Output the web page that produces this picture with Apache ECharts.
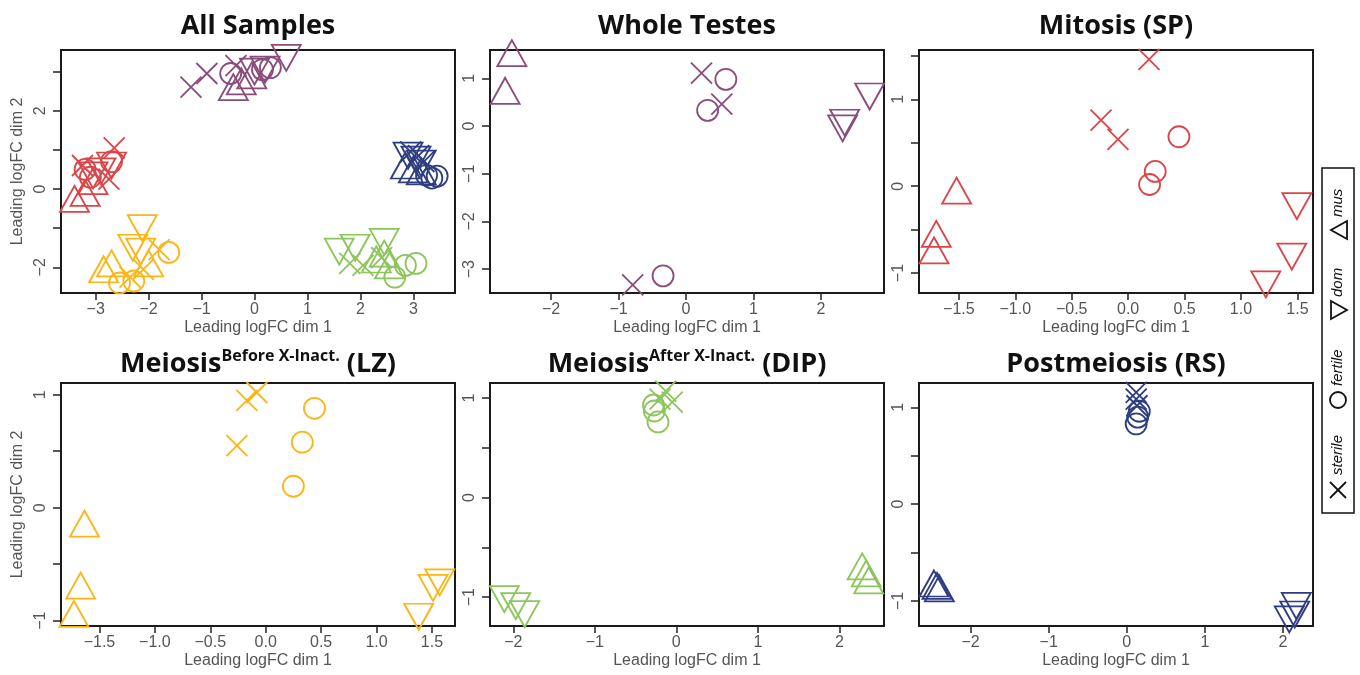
<!DOCTYPE html>
<html><head><meta charset="utf-8">
<script src="https://cdn.jsdelivr.net/npm/echarts@6/dist/echarts.min.js"></script>
<style>html,body{margin:0;padding:0;background:#fff}#c{width:1360px;height:675px}</style>
</head><body><div id="c"></div>
<script>
// ---------------- DATA ----------------
// All Samples (by cell type)
const allWtSterile = [[-1.2,2.6],[-0.9,2.95],[-0.35,3.15]];
const allWtFertile = [[-0.45,2.95],[0.15,3.05],[0.3,3.1]];
const allWtDom     = [[0.6,3.35],[0.0,3.0],[0.2,3.05]];
const allWtMus     = [[-0.4,2.6],[-0.25,2.75],[-0.05,2.9]];

const allSpSterile = [[-2.65,1.05],[-2.75,0.25],[-3.25,0.6]];
const allSpFertile = [[-2.7,0.7],[-3.2,0.5],[-3.1,0.3]];
const allSpDom     = [[-2.7,0.6],[-2.9,0.45],[-3.05,0.35]];
const allSpMus     = [[-3.4,-0.25],[-3.2,-0.1],[-3.05,0.2]];

const allLzSterile = [[-1.8,-1.55],[-2.1,-2.05],[-2.35,-2.25]];
const allLzFertile = [[-1.62,-1.62],[-2.28,-2.35],[-2.55,-2.4]];
const allLzDom     = [[-2.12,-1.0],[-2.3,-1.5],[-2.15,-1.6]];
const allLzMus     = [[-2.85,-2.05],[-2.7,-1.9],[-2.0,-1.9]];

const allDipSterile = [[1.8,-1.9],[2.05,-1.95],[2.4,-1.75]];
const allDipFertile = [[3.05,-1.9],[2.85,-1.95],[2.65,-2.25]];
const allDipDom     = [[1.6,-1.6],[1.9,-1.5],[2.45,-1.35]];
const allDipMus     = [[2.3,-1.8],[2.45,-1.65],[2.55,-1.95]];

const allRsSterile = [[2.95,0.95],[3.1,0.85],[3.2,0.7]];
const allRsFertile = [[3.45,0.33],[3.35,0.28],[3.25,0.35]];
const allRsDom     = [[2.9,0.85],[3.05,0.75],[3.15,0.65]];
const allRsMus     = [[2.85,0.6],[3.0,0.5],[3.15,0.45]];

// Whole Testes
const wtSterile = [[0.23,1.11],[0.53,0.46],[-0.79,-3.33]];
const wtFertile = [[0.59,0.98],[0.32,0.33],[-0.34,-3.14]];
const wtDom     = [[2.72,0.62],[2.35,0.07],[2.32,-0.05]];
const wtMus     = [[-2.58,1.53],[-2.68,0.74]];

// Mitosis (SP)
const spSterile = [[0.185,1.46],[-0.24,0.76],[-0.09,0.54]];
const spFertile = [[0.45,0.57],[0.24,0.17],[0.19,0.02]];
const spDom     = [[1.495,-0.23],[1.45,-0.81],[1.22,-1.13]];
const spMus     = [[-1.52,-0.05],[-1.70,-0.55],[-1.72,-0.74]];

// Meiosis before X-inactivation (LZ)
const lzSterile = [[-0.08,1.02],[-0.17,0.95],[-0.26,0.55]];
const lzFertile = [[0.44,0.88],[0.33,0.58],[0.25,0.19]];
const lzDom     = [[1.57,-0.66],[1.51,-0.71],[1.38,-0.965]];
const lzMus     = [[-1.635,-0.14],[-1.67,-0.69],[-1.73,-0.94]];

// Meiosis after X-inactivation (DIP)
const dipSterile = [[-0.05,0.96],[-0.13,1.07],[-0.2,0.99]];
const dipFertile = [[-0.28,0.93],[-0.27,0.87],[-0.225,0.76]];
const dipDom     = [[-2.11,-1.02],[-1.97,-1.09],[-1.86,-1.17]];
const dipMus     = [[2.28,-0.69],[2.33,-0.76],[2.36,-0.83]];

// Postmeiosis (RS)
const rsSterile = [[0.12,1.155],[0.12,1.085],[0.13,1.017]];
const rsFertile = [[0.16,0.96],[0.14,0.90],[0.12,0.83]];
const rsDom     = [[2.17,-1.05],[2.08,-1.19],[2.15,-1.14]];
const rsMus     = [[-2.47,-0.82],[-2.43,-0.845],[-2.40,-0.87]];

// Axis ranges and ticks
const p1XRange = [-3.655, 3.787], p1XTicks = [-3,-2,-1,0,1,2,3], p1XLabels = [-3,-2,-1,0,1,2,3];
const p1YRange = [-2.656, 3.55],  p1YTicks = [-2,-1,0,1,2,3],   p1YLabels = [-2,0,2];
const p2XRange = [-2.904, 2.933], p2XTicks = [-2,-1,0,1,2],     p2XLabels = [-2,-1,0,1,2];
const p2YRange = [-3.5, 1.595],   p2YTicks = [-3,-2,-1,0,1],    p2YLabels = [-3,-2,-1,0,1];
const p3XRange = [-1.853, 1.638], p3XTicks = [-1.5,-1,-0.5,0,0.5,1,1.5], p3XLabels = [-1.5,-1,-0.5,0,0.5,1,1.5];
const p3YRange = [-1.23, 1.569],  p3YTicks = [-1,-0.5,0,0.5,1,1.5], p3YLabels = [-1,0,1];
const p4XRange = [-1.847, 1.708], p4XTicks = [-1.5,-1,-0.5,0,0.5,1,1.5], p4XLabels = [-1.5,-1,-0.5,0,0.5,1,1.5];
const p4YRange = [-1.047, 1.104], p4YTicks = [-1,-0.5,0,0.5,1], p4YLabels = [-1,0,1];
const p5XRange = [-2.286, 2.548], p5XTicks = [-2,-1,0,1,2],     p5XLabels = [-2,-1,0,1,2];
const p5YRange = [-1.289, 1.151], p5YTicks = [-1,-0.5,0,0.5,1], p5YLabels = [-1,0,1];
const p6XRange = [-2.661, 2.384], p6XTicks = [-2,-1,0,1,2],     p6XLabels = [-2,-1,0,1,2];
const p6YRange = [-1.259, 1.252], p6YTicks = [-1,-0.5,0,0.5,1], p6YLabels = [-1,0,1];

const titles = ['All Samples','Whole Testes','Mitosis (SP)','Meiosis','Meiosis','Postmeiosis (RS)'];
const legendLabels = ['sterile','fertile','dom','mus'];
const xName = 'Leading logFC dim 1', yName = 'Leading logFC dim 2';

// ---------------- STYLE ----------------
const C = { WT:'#8a4c7b', SP:'#dc4448', LZ:'#fbb515', DIP:'#8cc55a', RS:'#2f3d80' };
const LABEL_FONT = 'Liberation Sans';
const TITLE_FONT = 'Open Sans';
const gridPos = [
  {left:61, top:50, width:394, height:243},
  {left:490, top:50, width:394, height:243},
  {left:919, top:50, width:394, height:243},
  {left:61, top:383, width:394, height:243},
  {left:490, top:383, width:394, height:243},
  {left:919, top:383, width:394, height:243}
];
const titleY = [26, 26, 26, 364, 364, 364];

const SYM = {
  sterile: {symbol:'path://M0,0L20,20M20,0L0,20', size:21, rot:0},
  fertile: {symbol:'circle', size:21, rot:0},
  dom:     {symbol:'triangle', size:[29,26], rot:180},
  mus:     {symbol:'triangle', size:[29,26], rot:0}
};

function fmt(dec){
  return function(v){
    let s = dec ? v.toFixed(dec) : String(Math.round(v));
    if (Math.abs(v) < 1e-9) s = dec ? (0).toFixed(dec) : '0';
    return s.replace('-', '\u2212');
  };
}

function xAxis(i, range, ticks, labels, dec){
  return {
    type:'value', gridIndex:i, min:range[0], max:range[1], position:'bottom',
    name:xName, nameLocation:'middle', nameGap:27,
    nameTextStyle:{fontFamily:LABEL_FONT, fontSize:16, color:'#555'},
    axisLine:{show:false, onZero:false}, splitLine:{show:false},
    axisTick:{show:true, inside:false, length:7, customValues:ticks, lineStyle:{color:'#222', width:1.5}},
    axisLabel:{show:true, customValues:labels, margin:9, formatter:fmt(dec), fontFamily:LABEL_FONT, fontSize:16, color:'#555'}
  };
}
function yAxis(i, range, ticks, labels, dec, named){
  return {
    type:'value', gridIndex:i, min:range[0], max:range[1], position:'left',
    name: named ? yName : '', nameLocation:'middle', nameGap:35,
    nameTextStyle:{fontFamily:LABEL_FONT, fontSize:16, color:'#555'},
    axisLine:{show:false, onZero:false}, splitLine:{show:false},
    axisTick:{show:true, inside:false, length:8, customValues:ticks, lineStyle:{color:'#222', width:1.5}},
    axisLabel:{show:true, customValues:labels, margin:12, rotate:90, formatter:fmt(dec), fontFamily:LABEL_FONT, fontSize:16, color:'#555'}
  };
}

const series = [];
function add(i, color, kind, data){
  const s = SYM[kind];
  series.push({
    type:'scatter', xAxisIndex:i, yAxisIndex:i, data:data,
    symbol:s.symbol, symbolSize:s.size, symbolRotate:s.rot,
    itemStyle:{color:'rgba(0,0,0,0)', borderColor:color, borderWidth:1.8, opacity:1},
    emphasis:{disabled:true}, clip:true, silent:true
  });
}
// panel 1
[['WT',allWtSterile,allWtFertile,allWtDom,allWtMus],
 ['SP',allSpSterile,allSpFertile,allSpDom,allSpMus],
 ['LZ',allLzSterile,allLzFertile,allLzDom,allLzMus],
 ['DIP',allDipSterile,allDipFertile,allDipDom,allDipMus],
 ['RS',allRsSterile,allRsFertile,allRsDom,allRsMus]].forEach(function(g){
  add(0, C[g[0]], 'mus', g[4]); add(0, C[g[0]], 'dom', g[3]);
  add(0, C[g[0]], 'fertile', g[2]); add(0, C[g[0]], 'sterile', g[1]);
});
[[1,'WT',wtSterile,wtFertile,wtDom,wtMus],
 [2,'SP',spSterile,spFertile,spDom,spMus],
 [3,'LZ',lzSterile,lzFertile,lzDom,lzMus],
 [4,'DIP',dipSterile,dipFertile,dipDom,dipMus],
 [5,'RS',rsSterile,rsFertile,rsDom,rsMus]].forEach(function(g){
  const c = C[g[1]];
  add(g[0], c, 'sterile', g[2]); add(g[0], c, 'fertile', g[3]);
  add(g[0], c, 'dom', g[4]); add(g[0], c, 'mus', g[5]);
});

const grids = gridPos.map(function(p){
  return Object.assign({show:true, borderColor:'#1a1a1a', borderWidth:2, backgroundColor:'transparent',
    containLabel:false, outerBoundsMode:'none'}, p);
});

const xAxes = [
  xAxis(0,p1XRange,p1XTicks,p1XLabels,0), xAxis(1,p2XRange,p2XTicks,p2XLabels,0),
  xAxis(2,p3XRange,p3XTicks,p3XLabels,1), xAxis(3,p4XRange,p4XTicks,p4XLabels,1),
  xAxis(4,p5XRange,p5XTicks,p5XLabels,0), xAxis(5,p6XRange,p6XTicks,p6XLabels,0)
];
const yAxes = [
  yAxis(0,p1YRange,p1YTicks,p1YLabels,0,true), yAxis(1,p2YRange,p2YTicks,p2YLabels,0,false),
  yAxis(2,p3YRange,p3YTicks,p3YLabels,0,false), yAxis(3,p4YRange,p4YTicks,p4YLabels,0,true),
  yAxis(4,p5YRange,p5YTicks,p5YLabels,0,false), yAxis(5,p6YRange,p6YTicks,p6YLabels,0,false)
];

// titles
const richT = {
  a:{fontSize:27, fontWeight:'bold', fontFamily:TITLE_FONT, lineHeight:32, fill:'#111'},
  b:{fontSize:16, fontWeight:'bold', fontFamily:TITLE_FONT, lineHeight:25, verticalAlign:'top', fill:'#111'}
};
function titleEl(i, text){
  const p = gridPos[i];
  return {type:'text', x:p.left + p.width/2, y:titleY[i], silent:true,
    style:{text:text, rich:richT, textAlign:'center', textVerticalAlign:'middle'}};
}
const graphics = [
  titleEl(0, '{a|' + titles[0] + '}'),
  titleEl(1, '{a|' + titles[1] + '}'),
  titleEl(2, '{a|' + titles[2] + '}'),
  titleEl(3, '{a|' + titles[3] + '}{b|Before X-Inact.}{a| (LZ)}'),
  titleEl(4, '{a|' + titles[4] + '}{b|After X-Inact.}{a| (DIP)}'),
  titleEl(5, '{a|' + titles[5] + '}')
];

// legend (rotated)
const LS = {stroke:'#111', lineWidth:1.8, fill:'none'};
const LT = {font:'italic 15px "Liberation Sans"', fill:'#111', textAlign:'left', textVerticalAlign:'middle'};
graphics.push({type:'rect', shape:{x:1322, y:168, width:32, height:345}, style:{stroke:'#111', lineWidth:1.5, fill:'#fff'}, silent:true});
graphics.push({
  type:'group', x:1338, y:340, rotation:Math.PI/2, silent:true,
  children:[
    {type:'line', shape:{x1:-158,y1:-8,x2:-142,y2:8}, style:LS},
    {type:'line', shape:{x1:-158,y1:8,x2:-142,y2:-8}, style:LS},
    {type:'text', x:-135, y:0, style:Object.assign({text:legendLabels[0]}, LT)},
    {type:'circle', shape:{cx:-60, cy:0, r:8}, style:LS},
    {type:'text', x:-46, y:0, style:Object.assign({text:legendLabels[1]}, LT)},
    {type:'polygon', shape:{points:[[21,-7],[39,-7],[30,9]]}, style:LS},
    {type:'text', x:43, y:0, style:Object.assign({text:legendLabels[2]}, LT)},
    {type:'polygon', shape:{points:[[101,9],[119,9],[110,-7]]}, style:LS},
    {type:'text', x:123, y:0, style:Object.assign({text:legendLabels[3]}, LT)}
  ]
});

const chart = echarts.init(document.getElementById('c'), null, {renderer:'canvas'});
chart.setOption({
  animation:false,
  backgroundColor:'#fff',
  grid:grids, xAxis:xAxes, yAxis:yAxes, series:series, graphic:graphics
});
</script></body></html>
